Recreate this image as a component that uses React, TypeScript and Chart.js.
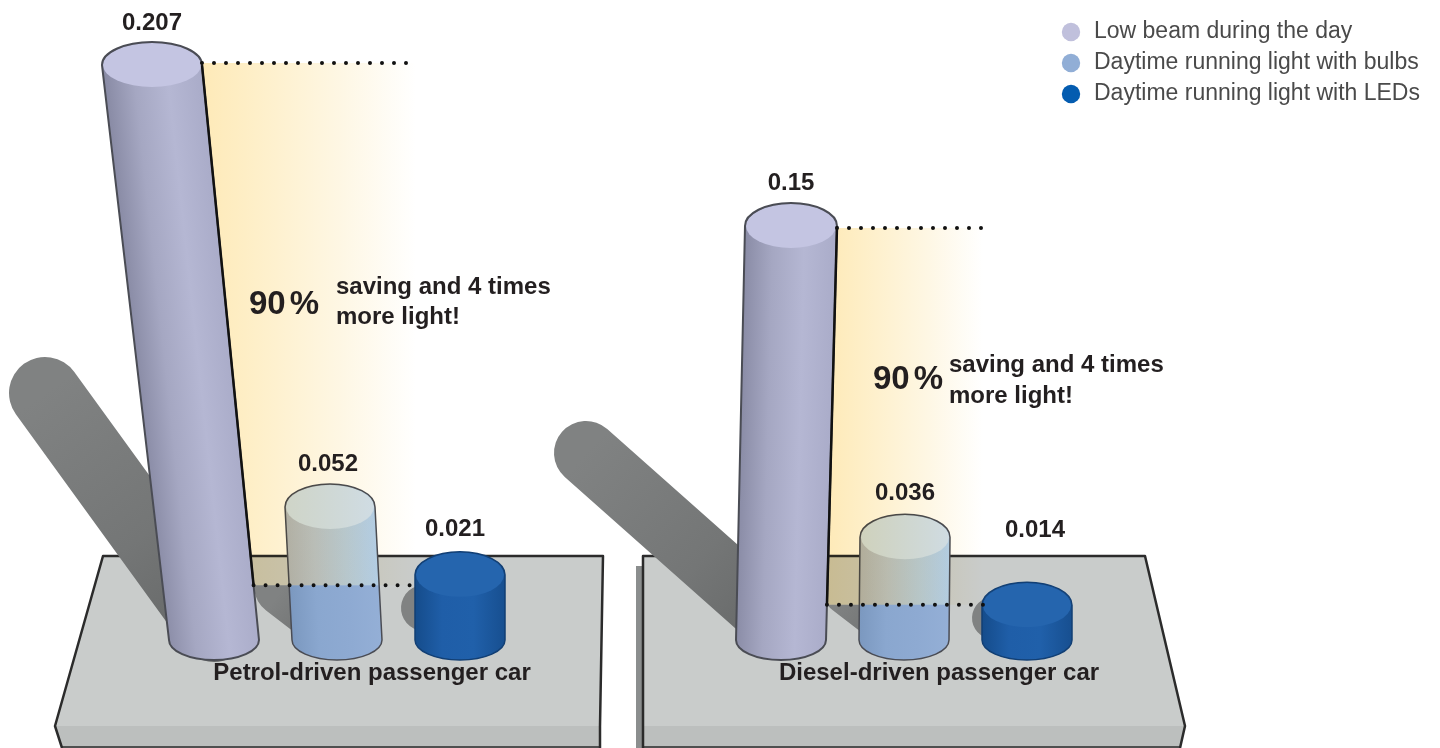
import React, { useEffect, useRef } from "react";
import { Chart, registerables } from "chart.js";

Chart.register(...registerables);

// ---- data ----
const categories = ["Petrol-driven passenger car", "Diesel-driven passenger car"];
const seriesNames = ["Low beam during the day", "Daytime running light with bulbs", "Daytime running light with LEDs"];
const lowBeam = [0.207, 0.15];
const bulbs = [0.052, 0.036];
const leds = [0.021, 0.014];
const savingPercent = "90 %";
const savingLines = ["saving and 4 times", "more light!"];

// ---- styles (per series, then per category) ----
const legendColors = ["#c0c0dc", "#91aed6", "#045cb0"];
const FONT = "'Liberation Sans', Arial, sans-serif";
const INK = "#231f20";
const bodyStops = [
  ["#8a8ca6", "#a5a7c2", "#b5b7d3", "#aaacc9"],
  ["#7b98bf", "#8aa7cf", "#8eaad2", "#94afd6"],
  ["#154c8b", "#1f5ea8", "#2060aa", "#174f90"],
];
const liftedStops = ["#b2b9c6", "#bac5d4", "#b8cde2", "#b3d0f0"];
const capColors = ["#c4c5e2", "#d0e0f2", "#2565ae"];
// cylinder perspective per [series][category]
const lean = [[-62, 10], [-7, 1], [0, 0]];
const topRx = [[50, 46], [45, 45], [45, 45]];
const topShift = [[-1.6, 1.5], [11, -3], [-7, 4]];
const labelShift = [[[0, -42], [0, -43]], [[-2, -43], [0, -44]], [[-5, -45], [8, -75]]];
const panelTopShift = [-2, 2];
// cast shadow per [series][category]: dx, dy, width
const shadows = [
  [[-169, -233, 72], [-195, -173, 64]],
  [[-52, -40, 62], [-52, -40, 62]],
  [[-36, -18, 46], [-34, -8, 42]],
];
const annotationAt = [
  { pct: [249, 305], text: [336, 287, 317] },
  { pct: [873, 380], text: [949, 365, 396] },
];

function drawPlatforms(ctx: CanvasRenderingContext2D) {
  const plates = [
    { tl: [103, 556], tr: [603, 556], fr: [600, 726], fl: [55, 726], br: [600, 748], bl: [62, 748] },
    { tl: [643, 556], tr: [1145, 556], fr: [1185, 726], fl: [643, 726], br: [1180, 748], bl: [643, 748] },
  ];
  // dark side sliver of the second plate
  ctx.fillStyle = "#8b8e8e";
  ctx.fillRect(636, 566, 8, 182);
  plates.forEach((p) => {
    ctx.fillStyle = "#c9cccb";
    ctx.beginPath();
    ctx.moveTo(p.tl[0], p.tl[1]);
    ctx.lineTo(p.tr[0], p.tr[1]);
    ctx.lineTo(p.fr[0], p.fr[1]);
    ctx.lineTo(p.fl[0], p.fl[1]);
    ctx.closePath();
    ctx.fill();
    ctx.fillStyle = "#bcbfbe";
    ctx.beginPath();
    ctx.moveTo(p.fl[0], p.fl[1]);
    ctx.lineTo(p.fr[0], p.fr[1]);
    ctx.lineTo(p.br[0], p.br[1]);
    ctx.lineTo(p.bl[0], p.bl[1]);
    ctx.closePath();
    ctx.fill();
    ctx.strokeStyle = "#2b2b2b";
    ctx.lineWidth = 2.5;
    ctx.lineJoin = "round";
    ctx.beginPath();
    ctx.moveTo(p.bl[0], p.bl[1]);
    ctx.lineTo(p.fl[0], p.fl[1]);
    ctx.lineTo(p.tl[0], p.tl[1]);
    ctx.lineTo(p.tr[0], p.tr[1]);
    ctx.lineTo(p.fr[0], p.fr[1]);
    ctx.lineTo(p.br[0], p.br[1]);
    ctx.stroke();
    ctx.lineWidth = 1.5;
    ctx.beginPath();
    ctx.moveTo(p.bl[0], 747);
    ctx.lineTo(p.br[0], 747);
    ctx.stroke();
  });
}

function lineY(chart: any, c: number) {
  return chart.scales.y.getPixelForValue(leds[c]) + 3.5;
}

function drawShadows(chart: any) {
  const ctx: CanvasRenderingContext2D = chart.ctx;
  [0, 1, 2].forEach((s) => {
    categories.forEach((_, c) => {
      const bar = chart.getDatasetMeta(s).data[c];
      const [dx, dy, w] = shadows[s][c];
      const x0 = bar.x;
      const y0 = bar.base - 14;
      ctx.save();
      if (s === 1) {
        ctx.beginPath();
        ctx.rect(0, lineY(chart, c), chart.width, chart.height);
        ctx.clip();
      }
      const g = ctx.createLinearGradient(x0 + dx, y0 + dy, x0, y0);
      g.addColorStop(0, "#808282");
      g.addColorStop(0.6, "#747676");
      g.addColorStop(1, "#666868");
      ctx.strokeStyle = g;
      ctx.lineWidth = w;
      ctx.lineCap = "round";
      ctx.beginPath();
      ctx.moveTo(x0 + dx, y0 + dy);
      ctx.lineTo(x0, y0);
      ctx.stroke();
      ctx.restore();
    });
  });
}

function cylinderGeom(chart: any, s: number, c: number) {
  const bar = chart.getDatasetMeta(s).data[c];
  return {
    bx: bar.x,
    by: bar.base,
    rB: bar.width / 2,
    ryB: 20,
    tx: bar.x + lean[s][c],
    ty: bar.y + topShift[s][c],
    rT: topRx[s][c],
    ryT: 23,
  };
}

function bodyPath(ctx: CanvasRenderingContext2D, g: any) {
  ctx.beginPath();
  ctx.moveTo(g.tx - g.rT, g.ty);
  ctx.lineTo(g.bx - g.rB, g.by);
  ctx.ellipse(g.bx, g.by, g.rB, g.ryB, 0, Math.PI, 0, true);
  ctx.lineTo(g.tx + g.rT, g.ty);
  ctx.ellipse(g.tx, g.ty, g.rT, g.ryT, 0, 0, Math.PI, true);
  ctx.closePath();
}

function bodyGradient(ctx: CanvasRenderingContext2D, g: any, stops: string[]) {
  const ax = g.tx - g.bx;
  const ay = g.ty - g.by;
  const len = Math.hypot(ax, ay) || 1;
  const nx = -ay / len;
  const ny = ax / len;
  const r = (g.rT + g.rB) / 2;
  const mx = (g.tx + g.bx) / 2;
  const my = (g.ty + g.by) / 2;
  const grad = ctx.createLinearGradient(mx - r * nx, my - r * ny, mx + r * nx, my + r * ny);
  const pos = [0, 0.3, 0.65, 1];
  stops.forEach((col, i) => grad.addColorStop(pos[i], col));
  return grad;
}

function drawCylinder(chart: any, s: number, c: number) {
  const ctx: CanvasRenderingContext2D = chart.ctx;
  const g = cylinderGeom(chart, s, c);
  ctx.save();
  bodyPath(ctx, g);
  ctx.fillStyle = bodyGradient(ctx, g, bodyStops[s]);
  ctx.fill();
  if (s === 1) {
    ctx.save();
    bodyPath(ctx, g);
    ctx.clip();
    ctx.fillStyle = bodyGradient(ctx, g, liftedStops);
    ctx.fillRect(0, 0, chart.width, lineY(chart, c));
    ctx.restore();
  }
  // cap
  ctx.fillStyle = capColors[s];
  ctx.beginPath();
  ctx.ellipse(g.tx, g.ty, g.rT - 1, g.ryT - 1, 0, 0, Math.PI * 2);
  ctx.fill();
  // outline
  ctx.strokeStyle = s === 2 ? "#123f74" : "#4a4c54";
  ctx.lineWidth = s === 0 ? 2 : 1.5;
  bodyPath(ctx, g);
  ctx.stroke();
  ctx.restore();
}

function drawPanels(chart: any) {
  const ctx: CanvasRenderingContext2D = chart.ctx;
  categories.forEach((_, c) => {
    const g = cylinderGeom(chart, 0, c);
    const led = chart.getDatasetMeta(2).data[c];
    const rightX = led.x - 44;
    const topY = g.ty + panelTopShift[c];
    const botY = lineY(chart, c);
    const topL = g.tx + g.rT;
    const baseR = g.bx + g.rB;
    const botL = baseR + ((topL - baseR) * (g.by - botY)) / (g.by - g.ty);
    ctx.save();
    ctx.globalCompositeOperation = "multiply";
    const grad = ctx.createLinearGradient(Math.min(topL, botL), 0, rightX, 0);
    grad.addColorStop(0, "#feeab8");
    grad.addColorStop(0.3, "#fef0cc");
    grad.addColorStop(0.65, "#fef7e4");
    grad.addColorStop(1, "#ffffff");
    ctx.fillStyle = grad;
    ctx.beginPath();
    ctx.moveTo(topL, topY);
    ctx.lineTo(rightX, topY);
    ctx.lineTo(rightX, botY);
    ctx.lineTo(botL, botY);
    ctx.closePath();
    ctx.fill();
    ctx.restore();

    // dark edge and dotted guide lines
    ctx.save();
    ctx.strokeStyle = "#111";
    ctx.lineWidth = 2.5;
    ctx.beginPath();
    ctx.moveTo(topL, g.ty);
    ctx.lineTo(botL, botY);
    ctx.stroke();
    ctx.lineWidth = 4;
    ctx.lineCap = "round";
    ctx.setLineDash([0, 12]);
    ctx.beginPath();
    ctx.moveTo(topL, topY);
    ctx.lineTo(rightX, topY);
    ctx.stroke();
    ctx.beginPath();
    ctx.moveTo(botL, botY);
    ctx.lineTo(rightX, botY);
    ctx.stroke();
    ctx.restore();
  });
}

function drawTexts(chart: any) {
  const ctx: CanvasRenderingContext2D = chart.ctx;
  ctx.save();
  ctx.fillStyle = INK;
  ctx.textBaseline = "middle";
  ctx.textAlign = "center";
  ctx.font = `bold 24px ${FONT}`;
  [lowBeam, bulbs, leds].forEach((vals, s) => {
    vals.forEach((v, c) => {
      const g = cylinderGeom(chart, s, c);
      const [dx, dy] = labelShift[s][c];
      ctx.fillText(String(v), g.tx + dx, g.ty + dy);
    });
  });
  ctx.textAlign = "left";
  annotationAt.forEach((a) => {
    ctx.font = `bold 33px ${FONT}`;
    (ctx as any).wordSpacing = "-5px";
    ctx.fillText(savingPercent, a.pct[0], a.pct[1]);
    (ctx as any).wordSpacing = "0px";
    ctx.font = `bold 24px ${FONT}`;
    ctx.fillText(savingLines[0], a.text[0], a.text[1]);
    ctx.fillText(savingLines[1], a.text[0], a.text[2]);
  });
  ctx.restore();
}

const cylinderPlugin = {
  id: "cylinders",
  afterLayout(chart: any) {
    const l = chart.legend;
    if (l) {
      l.left = 1051.5;
      l.top = 12.5;
      l.right = 1440;
      l.bottom = 125;
      l.width = 388;
      l.height = 112;
    }
  },
  beforeDraw(chart: any) {
    const ctx: CanvasRenderingContext2D = chart.ctx;
    ctx.save();
    ctx.fillStyle = "#ffffff";
    ctx.fillRect(0, 0, chart.width, chart.height);
    drawPlatforms(ctx);
    ctx.restore();
    drawShadows(chart);
  },
  beforeDatasetDraw(chart: any, args: any) {
    categories.forEach((_, c) => drawCylinder(chart, args.index, c));
    return false;
  },
  afterDatasetsDraw(chart: any) {
    drawPanels(chart);
    drawTexts(chart);
  },
};

export default function App() {
  const ref = useRef<HTMLCanvasElement | null>(null);
  useEffect(() => {
    document.body.style.margin = "0";
    const chart = new Chart(ref.current as HTMLCanvasElement, {
      type: "bar",
      data: {
        labels: categories,
        datasets: [lowBeam, bulbs, leds].map((data, i) => ({
          label: seriesNames[i],
          data,
          backgroundColor: legendColors[i],
          borderColor: legendColors[i],
          barPercentage: 0.7317,
          categoryPercentage: 0.6508,
        })),
      },
      options: {
        animation: false,
        responsive: false,
        layout: { padding: { left: 53.5, right: 252.5, top: 0, bottom: 0 } },
        plugins: {
          tooltip: { enabled: false },
          legend: {
            position: "chartArea",
            align: "start",
            labels: {
              usePointStyle: true,
              pointStyle: "circle",
              boxHeight: 13,
              boxWidth: 23,
              padding: 8,
              color: "#4a4a4a",
              font: { family: FONT, size: 23 },
            },
          },
        },
        scales: {
          x: {
            grid: { display: false, drawTicks: false },
            border: { display: false },
            ticks: {
              color: INK,
              padding: 19,
              labelOffset: 35,
              maxRotation: 0,
              autoSkip: false,
              font: { family: FONT, size: 24, weight: "bold" },
            },
            afterFit: (s: any) => {
              s.height = 108;
            },
          },
          y: { display: false, min: 0, max: 640 / 2770 },
        },
      } as any,
      plugins: [cylinderPlugin],
    } as any);
    return () => chart.destroy();
  }, []);
  return (
    <div style={{ width: 1440, height: 748, overflow: "hidden" }}>
      <canvas ref={ref} width={1440} height={748} style={{ display: "block" }} />
    </div>
  );
}
